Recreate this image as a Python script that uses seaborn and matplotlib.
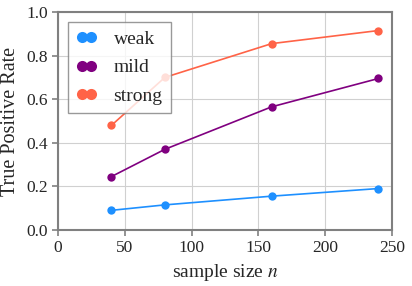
import pandas as pd
import matplotlib.pyplot as plt
import seaborn as sns

sample_sizes = [40, 80, 160, 240]
weak = [0.09, 0.115, 0.155, 0.19]
mild = [0.245, 0.37, 0.565, 0.695]
strong = [0.48, 0.70, 0.855, 0.915]
effects = ['weak', 'mild', 'strong']
cores = ['#1E90FF', '#800080', '#FF6347']

df = pd.DataFrame({
    'n': sample_sizes * 3,
    'tpr': weak + mild + strong,
    'efeito': ['weak'] * 4 + ['mild'] * 4 + ['strong'] * 4,
})

sns.set_style('whitegrid')
plt.rcParams['font.family'] = ['Liberation Serif', 'DejaVu Serif']
plt.rcParams['mathtext.fontset'] = 'stix'

fig, ax = plt.subplots(figsize=(4.12, 2.86), dpi=100)
fig.subplots_adjust(left=0.141, right=0.951, top=0.958, bottom=0.196)

sns.lineplot(data=df, x='n', y='tpr', hue='efeito', hue_order=effects,
             palette=cores, marker='o', markersize=6, markeredgewidth=0,
             linewidth=1.2, ax=ax)

ax.set_xlim(0, 250)
ax.set_ylim(0, 1.0)
ax.set_xticks([0, 50, 100, 150, 200, 250])
ax.set_yticks([0.0, 0.2, 0.4, 0.6, 0.8, 1.0])
ax.set_xlabel('sample size $n$', fontsize=14)
ax.set_ylabel('True Positive Rate', fontsize=14.5)
ax.tick_params(labelsize=12.5, left=True, bottom=True, length=4, width=1.2, color='gray')
ax.grid(color='#d0d0d0', linewidth=0.8)
for s in ax.spines.values():
    s.set_color('gray')
    s.set_linewidth(1.5)

leg = ax.legend(loc='upper left', fontsize=14, numpoints=2, handlelength=1.05,
                handletextpad=0.85, frameon=True, fancybox=False, edgecolor='gray',
                framealpha=0.8, borderpad=0.45, labelspacing=0.55)
leg.get_frame().set_linewidth(1.0)
for h in leg.legend_handles:
    h.set_linewidth(0)
    h.set_markersize(8)

plt.savefig('out.png', dpi=100)
